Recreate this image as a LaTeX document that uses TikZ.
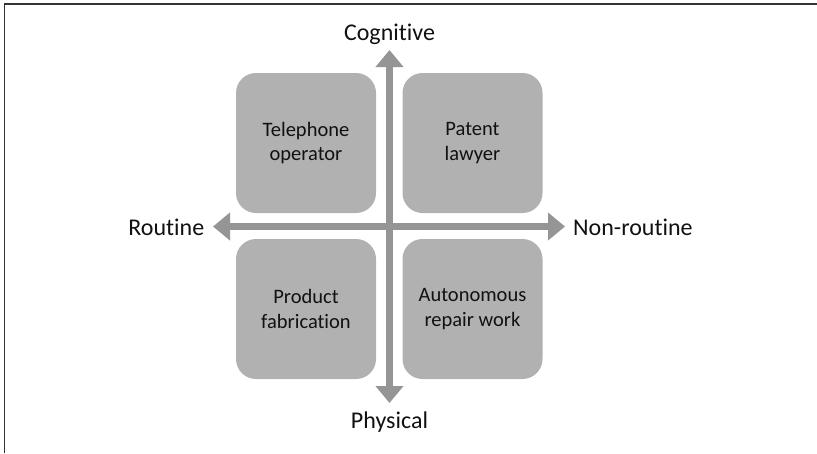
\documentclass[tikz,border=0pt]{standalone}
\usepackage{fontspec}
\setmainfont{Carlito}[Ligatures={NoCommon}]
\usetikzlibrary{arrows.meta}
\definecolor{boxgray}{HTML}{B1B1B1}
\definecolor{arrowgray}{HTML}{959595}
\definecolor{textdark}{HTML}{111111}
\definecolor{framecol}{HTML}{333333}
\begin{document}
\begin{tikzpicture}[x=1pt,y=-1pt,
  quad/.style={fill=boxgray, rounded corners=20pt, minimum width=140pt, minimum height=140pt,
    inner sep=0pt, align=center, text=textdark, font=\fontsize{20.5}{24.5}\selectfont},
  axislabel/.style={text=textdark, font=\fontsize{24}{28}\selectfont, inner sep=0pt},
  axis/.style={draw=arrowgray, line width=7pt, {Triangle[width=27pt,length=17pt]}-{Triangle[width=27pt,length=17pt]}}]
\useasboundingbox (0,0) rectangle (817,453);
\fill[white] (0,0) rectangle (817,453);
\draw[framecol, line width=1.6pt] (4.5,453) -- (4.5,3.8) -- (817,3.8);
% quadrant boxes
\node[quad] (tl) at (306,143) {Telephone\\operator};
\node[quad] (tr) at (472.5,143) {Patent\\lawyer};
\node[quad] (bl) at (306,309) {Product\\fabrication};
\node[quad] (br) at (472.5,309) {Autonomous\\repair work};
% axis end points
\coordinate (up) at (389.5,50);
\coordinate (down) at (389.5,403);
\coordinate (lft) at (213,226.5);
\coordinate (rgt) at (565,226.5);
\draw[axis] (down) -- (up);
\draw[axis] (lft) -- (rgt);
% axis labels
\node[axislabel, anchor=base] (cog) at (389.5,40) {Cognitive};
\node[axislabel, anchor=base] (phy) at (389.5,428) {Physical};
\node[axislabel, anchor=base east] (rou) at (204.5,235) {Routine};
\node[axislabel, anchor=base west] (non) at (573,235) {Non-routine};
\end{tikzpicture}
\end{document}
